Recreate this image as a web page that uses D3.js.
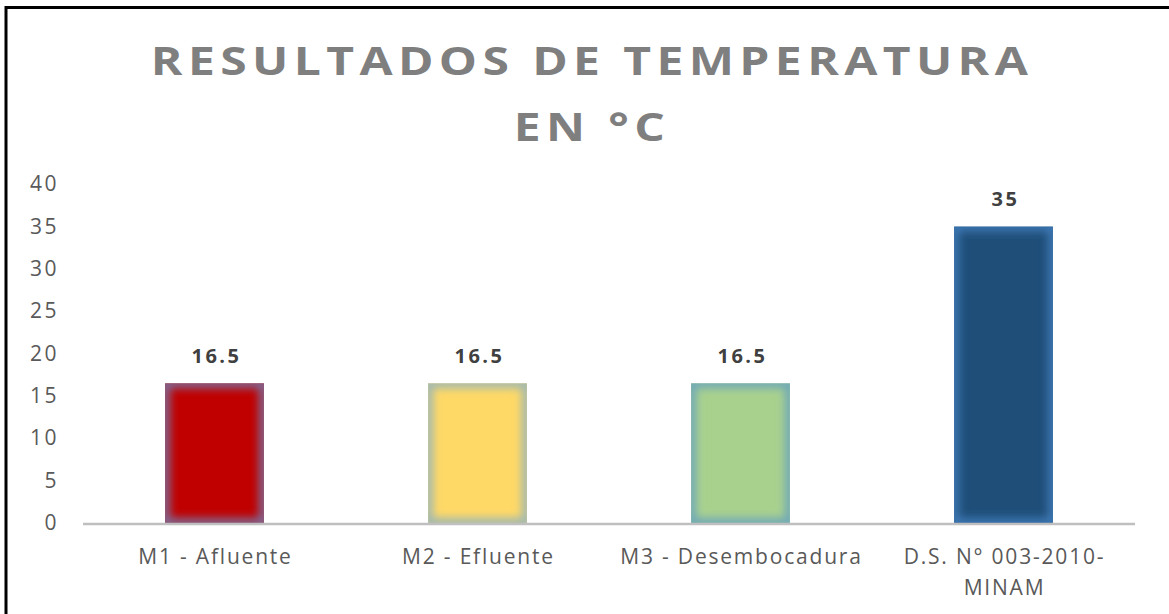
<!DOCTYPE html>
<html>
<head>
<meta charset="utf-8">
<script src="https://cdn.jsdelivr.net/npm/d3@7"></script>
<style>
  body { margin: 0; background: #fff; }
  svg { display: block; }
</style>
</head>
<body>
<div id="chart"></div>
<script>
const categories = ["M1 - Afluente", "M2 - Efluente", "M3 - Desembocadura", "D.S. N° 003-2010-\nMINAM"];
const values = [16.5, 16.5, 16.5, 35];
const yTicks = [0, 5, 10, 15, 20, 25, 30, 35, 40];
const barColors = ["#C00000", "#FFD966", "#A9D18E", "#1F4E79"];
const edgeColors = ["#7E6A96", "#9FB8B4", "#6FA8B8", "#3C78B4"];
const titleLines = ["RESULTADOS DE TEMPERATURA", "EN °C"];

const W = 1169, H = 614;
const margin = { left: 83, right: 34, top: 184, bottom: 91 };

const svg = d3.select("#chart").append("svg")
  .attr("width", W)
  .attr("height", H);

// frame: only top and left edges visible
svg.append("line").attr("x1", 6).attr("x2", W).attr("y1", 7.5).attr("y2", 7.5)
  .attr("stroke", "#000").attr("stroke-width", 3);
svg.append("line").attr("x1", 6).attr("x2", 6).attr("y1", 6).attr("y2", H)
  .attr("stroke", "#000").attr("stroke-width", 3);

// title (glyphs are stretched sideways in the original)
svg.append("g")
  .attr("transform", "translate(592,0) scale(1.2,1)")
  .append("text")
  .attr("text-anchor", "middle")
  .style("font-family", "'Open Sans', sans-serif")
  .style("font-weight", "bold")
  .style("font-size", "40px")
  .style("letter-spacing", "4.5px")
  .style("fill", "#7F7F7F")
  .selectAll("tspan")
  .data(titleLines)
  .join("tspan")
  .attr("x", 0)
  .attr("y", (d, i) => 75 + i * 66)
  .text(d => d);

const x = d3.scaleBand()
  .domain(categories)
  .range([margin.left, W - margin.right])
  .paddingInner(0.624)
  .paddingOuter(0.312);

const y = d3.scaleLinear()
  .domain([0, 40])
  .range([523, margin.top]);

// y axis labels
const yAxis = d3.axisLeft(y).tickValues(yTicks).tickSize(0).tickPadding(0);
const yg = svg.append("g")
  .attr("transform", `translate(59,0)`)
  .call(yAxis);
yg.select(".domain").remove();
yg.selectAll("text")
  .style("font-family", "'Open Sans', sans-serif")
  .style("font-size", "21px")
  .style("letter-spacing", "2.5px")
  .style("fill", "#595959");

// soft edge filter
const defs = svg.append("defs");
defs.append("filter")
  .attr("id", "soft")
  .attr("x", "-20%").attr("y", "-20%").attr("width", "140%").attr("height", "140%")
  .append("feGaussianBlur")
  .attr("stdDeviation", 4);

const bars = svg.append("g");
categories.forEach((c, i) => {
  const bx = x(c), by = y(values[i]), bw = x.bandwidth(), bh = y(0) - y(values[i]);
  const clipId = "clip" + i;
  defs.append("clipPath").attr("id", clipId)
    .append("rect").attr("x", bx).attr("y", by).attr("width", bw).attr("height", bh);
  const g = bars.append("g").attr("clip-path", `url(#${clipId})`);
  g.append("rect")
    .attr("x", bx).attr("y", by).attr("width", bw).attr("height", bh)
    .attr("fill", barColors[i]);
  g.append("rect")
    .attr("x", bx).attr("y", by).attr("width", bw).attr("height", bh)
    .attr("fill", "none")
    .attr("stroke", edgeColors[i])
    .attr("stroke-width", 10)
    .attr("filter", "url(#soft)");
});

// baseline
svg.append("line")
  .attr("x1", margin.left).attr("x2", W - margin.right)
  .attr("y1", y(0) + 1).attr("y2", y(0) + 1)
  .attr("stroke", "#BFBFBF").attr("stroke-width", 2.5);

// value labels
svg.append("g").selectAll("text")
  .data(values)
  .join("text")
  .attr("x", (d, i) => x(categories[i]) + x.bandwidth() / 2 + 2)
  .attr("y", d => y(d) - 20)
  .attr("text-anchor", "middle")
  .style("font-family", "'Open Sans', sans-serif")
  .style("font-weight", "bold")
  .style("font-size", "20px")
  .style("letter-spacing", "2.5px")
  .style("fill", "#404040")
  .text(d => d);

// category labels
const xl = svg.append("g").selectAll("text")
  .data(categories)
  .join("text")
  .attr("text-anchor", "middle")
  .style("font-family", "'Open Sans', sans-serif")
  .style("font-size", "21px")
  .style("letter-spacing", "1.8px")
  .style("fill", "#595959");
xl.each(function(d) {
  const cx = x(d) + x.bandwidth() / 2 + 1;
  d3.select(this).selectAll("tspan")
    .data(d.split("\n"))
    .join("tspan")
    .attr("x", cx)
    .attr("y", (t, j) => 564 + j * 31)
    .text(t => t);
});
</script>
</body>
</html>
